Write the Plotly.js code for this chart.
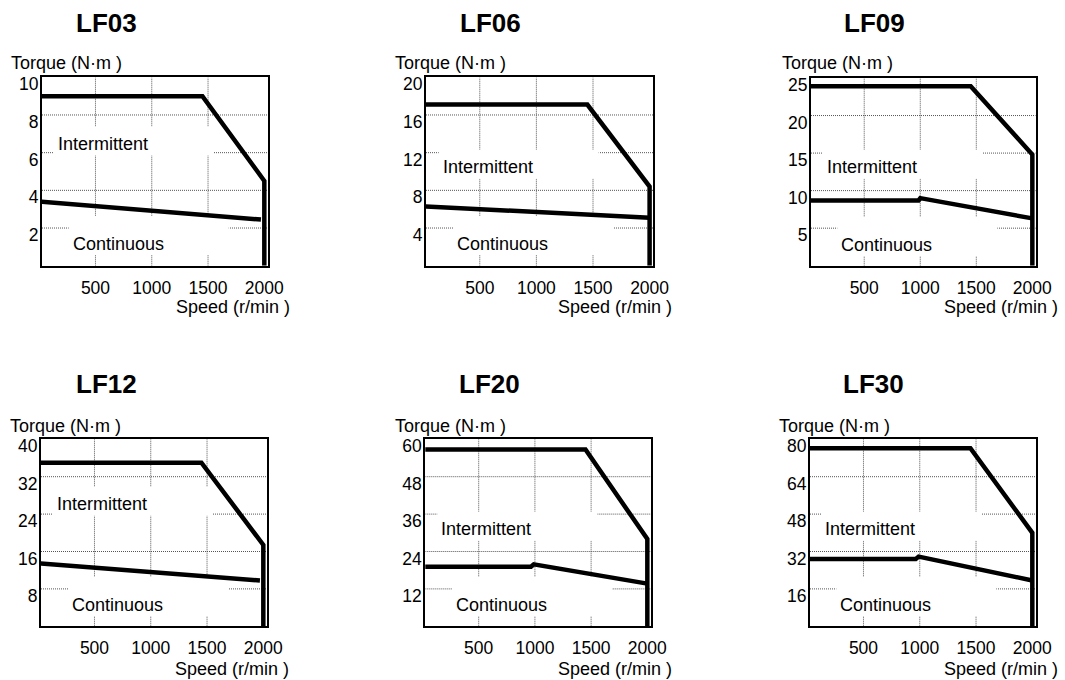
<!DOCTYPE html>
<html><head><meta charset="utf-8">
<script src="https://cdn.plot.ly/plotly-3.0.1.min.js"></script>
<style>html,body{margin:0;padding:0;background:#fff}#chart{width:1065px;height:680px}</style>
</head><body><div id="chart"></div>
<script>
// ---- data ----
const models = ['LF03', 'LF06', 'LF09', 'LF12', 'LF20', 'LF30'];
const xTicks = [500, 1000, 1500, 2000];

const yTicksLF03 = [2, 4, 6, 8, 10];
const yTicksLF06 = [4, 8, 12, 16, 20];
const yTicksLF09 = [5, 10, 15, 20, 25];
const yTicksLF12 = [8, 16, 24, 32, 40];
const yTicksLF20 = [12, 24, 36, 48, 60];
const yTicksLF30 = [16, 32, 48, 64, 80];

const intermSpeedLF03 = [0, 1450, 2000, 2000];
const intermTorqueLF03 = [9.0, 9.0, 4.5, 0];
const contSpeedLF03 = [0, 1970];
const contTorqueLF03 = [3.4, 2.45];

const intermSpeedLF06 = [0, 1450, 2000, 2000];
const intermTorqueLF06 = [17.1, 17.1, 8.4, 0];
const contSpeedLF06 = [0, 2000];
const contTorqueLF06 = [6.3, 5.1];

const intermSpeedLF09 = [0, 1450, 2000, 2000];
const intermTorqueLF09 = [23.9, 23.9, 14.8, 0];
const contSpeedLF09 = [0, 985, 1000, 2000];
const contTorqueLF09 = [8.7, 8.7, 9.0, 6.3];

const intermSpeedLF12 = [0, 1450, 2000, 2000];
const intermTorqueLF12 = [35, 35, 17.4, 0];
const contSpeedLF12 = [0, 1970];
const contTorqueLF12 = [13.5, 9.8];

const intermSpeedLF20 = [0, 1450, 2000, 2000];
const intermTorqueLF20 = [56.7, 56.7, 28, 0];
const contSpeedLF20 = [0, 965, 990, 2000];
const contTorqueLF20 = [19.1, 19.1, 19.9, 13.7];

const intermSpeedLF30 = [0, 1450, 2000, 2000];
const intermTorqueLF30 = [76.2, 76.2, 40, 0];
const contSpeedLF30 = [0, 965, 990, 2000];
const contTorqueLF30 = [28.8, 28.8, 29.8, 19.6];

const xTitle = 'Speed (r/min )';
const yTitle = 'Torque (N·m )';
const interLabel = 'Intermittent';
const contLabel = 'Continuous';

// ---- layout config (pixel positions) ----
const W = 1065, H = 680;
const FONT = 'Liberation Sans, Arial, Helvetica, sans-serif';
const panels = [
  {ticks: yTicksLF03, iS: intermSpeedLF03, iT: intermTorqueLF03, cS: contSpeedLF03, cT: contTorqueLF03,
   box: [41, 268.7, 76.3, 266.7], title: [106, 23], torque: [9, 63.3], speed: [291.7, 307.2], inter: [56, 143.5], cont: [70.7, 244]},
  {ticks: yTicksLF06, iS: intermSpeedLF06, iT: intermTorqueLF06, cS: contSpeedLF06, cT: contTorqueLF06,
   box: [425, 654, 76.3, 266.7], title: [490, 23], torque: [393.3, 63.3], speed: [674, 307.2], inter: [440.7, 166.7], cont: [455, 244]},
  {ticks: yTicksLF09, iS: intermSpeedLF09, iT: intermTorqueLF09, cS: contSpeedLF09, cT: contTorqueLF09,
   box: [810, 1036.7, 77, 266.7], title: [874, 23], torque: [779.5, 63.3], speed: [1060, 307.2], inter: [825, 166.7], cont: [839.3, 245]},
  {ticks: yTicksLF12, iS: intermSpeedLF12, iT: intermTorqueLF12, cS: contSpeedLF12, cT: contTorqueLF12,
   box: [40, 267.7, 438.3, 627.3], title: [106, 384], torque: [8.3, 425.5], speed: [290.7, 668.7], inter: [55, 503.7], cont: [70, 605]},
  {ticks: yTicksLF20, iS: intermSpeedLF20, iT: intermTorqueLF20, cS: contSpeedLF20, cT: contTorqueLF20,
   box: [424.3, 651.7, 438.3, 627.3], title: [489.7, 384], torque: [392.7, 425.5], speed: [674, 668.7], inter: [439.3, 528.7], cont: [454, 605]},
  {ticks: yTicksLF30, iS: intermSpeedLF30, iT: intermTorqueLF30, cS: contSpeedLF30, cT: contTorqueLF30,
   box: [809, 1036.7, 438.3, 627.3], title: [873.7, 384], torque: [776.7, 425.5], speed: [1060, 668.7], inter: [823.3, 528.7], cont: [838.3, 605]}
];

const data = [];
const layout = {
  width: W, height: H,
  margin: {l: 0, r: 0, t: 0, b: 0},
  paper_bgcolor: '#fff', plot_bgcolor: '#fff',
  showlegend: false,
  font: {family: FONT, color: '#000'},
  shapes: [], annotations: []
};
const gridShapes = [], boxShapes = [];

panels.forEach((p, i) => {
  const n = i + 1;
  const sfx = n > 1 ? String(n) : '';
  const xid = 'x' + sfx, yid = 'y' + sfx;
  const [L, R, T, B] = p.box;
  const dl = L + 1, dr = R - 1, dt = T + 1, db = B - 1;
  const xr = [25, 2030];
  const yr = [0, p.ticks[p.ticks.length - 1]];
  const fx = px => xr[0] + (px - dl) / (dr - dl) * (xr[1] - xr[0]);
  const fy = py => yr[0] + (db - py) / (db - dt) * (yr[1] - yr[0]);

  const common = {
    showgrid: false, zeroline: false, showline: true, mirror: true,
    linecolor: '#000', linewidth: 2, ticks: '', fixedrange: true,
    tickfont: {family: FONT, size: 17.5, color: '#000'}, tickmode: 'array'
  };
  layout['xaxis' + sfx] = Object.assign({}, common, {
    domain: [dl / W, dr / W], range: xr, anchor: yid, tickvals: xTicks, ticklabelstandoff: 5
  });
  layout['yaxis' + sfx] = Object.assign({}, common, {
    domain: [1 - db / H, 1 - dt / H], range: yr, anchor: xid, tickvals: p.ticks,
    ticklabelshift: 7, ticklabelstandoff: -2
  });

  data.push({x: p.iS, y: p.iT, xaxis: xid, yaxis: yid, type: 'scatter', mode: 'lines',
    line: {color: '#000', width: 4.5}, hoverinfo: 'skip', name: models[i] + ' ' + interLabel});
  data.push({x: p.cS, y: p.cT, xaxis: xid, yaxis: yid, type: 'scatter', mode: 'lines',
    line: {color: '#000', width: 4.5}, hoverinfo: 'skip', name: models[i] + ' ' + contLabel});

  const gl = {color: '#555', width: 1, dash: '1px,1px'};
  xTicks.slice(0, 3).forEach(v => gridShapes.push({type: 'line', xref: xid, yref: yid, layer: 'below',
    x0: v, x1: v, y0: yr[0], y1: yr[1], line: gl}));
  p.ticks.slice(0, p.ticks.length - 1).forEach(v => gridShapes.push({type: 'line', xref: xid, yref: yid, layer: 'below',
    x0: xr[0], x1: xr[1], y0: v, y1: v, line: gl}));

  // white label boxes that interrupt the grid
  boxShapes.push({type: 'rect', xref: xid, yref: yid, layer: 'below',
    x0: fx(p.inter[0] - 2), x1: fx(p.inter[0] + 158), y0: fy(p.inter[1] + 12), y1: fy(p.inter[1] - 17),
    fillcolor: '#fff', line: {width: 0}});
  boxShapes.push({type: 'rect', xref: xid, yref: yid, layer: 'below',
    x0: fx(p.cont[0] - 2), x1: fx(p.cont[0] + 158), y0: fy(p.cont[1] + 11), y1: fy(p.cont[1] - 28),
    fillcolor: '#fff', line: {width: 0}});

  const ann = (text, x, y, xanchor, size, bold) => layout.annotations.push({
    text: bold ? '<b>' + text + '</b>' : text, xref: 'paper', yref: 'paper',
    x: x / W, y: 1 - y / H, xanchor: xanchor, yanchor: 'middle', showarrow: false,
    font: {family: FONT, size: size, color: '#000'}
  });
  ann(models[i], p.title[0], p.title[1], 'center', 26, true);
  ann(yTitle, p.torque[0], p.torque[1], 'left', 18, false);
  ann(xTitle, p.speed[0], p.speed[1], 'right', 18, false);
  ann(interLabel, p.inter[0], p.inter[1], 'left', 18, false);
  ann(contLabel, p.cont[0], p.cont[1], 'left', 18, false);
});

layout.shapes = gridShapes.concat(boxShapes);

Plotly.newPlot('chart', data, layout, {staticPlot: true, displayModeBar: false});
</script>
</body></html>
